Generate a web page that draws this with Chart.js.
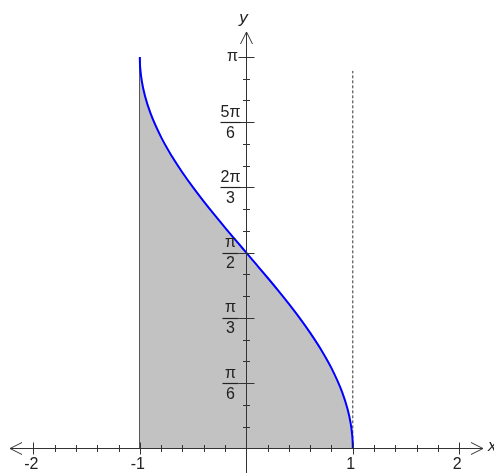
<!DOCTYPE html>
<html>
<head>
<meta charset="utf-8">
<script src="https://cdn.jsdelivr.net/npm/chart.js@4"></script>
<style>
  html, body { margin: 0; padding: 0; background: #fff; }
</style>
</head>
<body>
<canvas id="myChart" width="494" height="473"></canvas>
<script>
var PI = Math.PI;

// curve y = arccos x
var curveX = [-1, -0.999, -0.995, -0.98, -0.95, -0.9, -0.8, -0.7, -0.6, -0.5, -0.4, -0.3, -0.2, -0.1,
              0, 0.1, 0.2, 0.3, 0.4, 0.5, 0.6, 0.7, 0.8, 0.9, 0.95, 0.98, 0.995, 0.999, 1];
var curveY = [3.1416, 3.0969, 3.0416, 2.9413, 2.8240, 2.6906, 2.4981, 2.3462, 2.2143, 2.0944, 1.9823, 1.8755, 1.7722, 1.6710,
              1.5708, 1.4706, 1.3694, 1.2661, 1.1593, 1.0472, 0.9273, 0.7954, 0.6435, 0.4510, 0.3176, 0.2003, 0.1000, 0.0447, 0];

// left edge (solid) and dashed line at x = 1
var edgeX = [-1, -1];
var edgeY = [0, 3.1416];
var dashX = [1, 1];
var dashY = [0, 3.03];

// ticks
var xTicks = [-2, -1, 1, 2];
var xTickLabels = ['-2', '-1', '1', '2'];
var xMinorTicks = [-1.8, -1.6, -1.4, -1.2, -0.8, -0.6, -0.4, -0.2, 0.2, 0.4, 0.6, 0.8, 1.2, 1.4, 1.6, 1.8];
var yTicks = [PI / 6, PI / 3, PI / 2, 2 * PI / 3, 5 * PI / 6, PI];
var yTickLabels = [['π', '6'], ['π', '3'], ['π', '2'], ['2π', '3'], ['5π', '6'], ['π', '']];
var yMinorTicks = [1, 2, 4, 5, 7, 8, 10, 11, 13, 14, 16, 17].map(function (k) { return k * PI / 18; });

function pts(xs, ys) {
  return xs.map(function (x, i) { return { x: x, y: ys[i] }; });
}

var axisColor = '#333';
var textColor = '#222';

// draws the crossing axes, ticks, arrows and fraction labels
var axesPlugin = {
  id: 'axes',
  afterDatasetsDraw: function (chart) {
    var c = chart.ctx;
    var xs = chart.scales.x, ys = chart.scales.y;
    var area = chart.chartArea;
    var x0 = Math.round(xs.getPixelForValue(0)) + 0.5;
    var y0 = Math.round(ys.getPixelForValue(0)) + 0.5;
    var leftTip = area.left + 10, rightTip = area.right - 11, topTip = area.top + 32;

    c.save();
    c.strokeStyle = axisColor;
    c.lineWidth = 1;
    c.beginPath();
    // x axis
    c.moveTo(leftTip, y0); c.lineTo(rightTip, y0);
    c.moveTo(leftTip + 12, y0 - 6); c.lineTo(leftTip, y0); c.lineTo(leftTip + 12, y0 + 6);
    c.moveTo(rightTip - 12, y0 - 6); c.lineTo(rightTip, y0); c.lineTo(rightTip - 12, y0 + 6);
    // y axis
    c.moveTo(x0, area.bottom); c.lineTo(x0, topTip);
    c.moveTo(x0 - 6, topTip + 12); c.lineTo(x0, topTip); c.lineTo(x0 + 6, topTip + 12);

    xTicks.forEach(function (v) {
      var p = Math.round(xs.getPixelForValue(v)) + 0.5;
      c.moveTo(p, y0 - 6); c.lineTo(p, y0 + 6);
    });
    xMinorTicks.forEach(function (v) {
      var p = Math.round(xs.getPixelForValue(v)) + 0.5;
      c.moveTo(p, y0 - 3.5); c.lineTo(p, y0 + 3.5);
    });
    yTicks.forEach(function (v) {
      var p = Math.round(ys.getPixelForValue(v)) + 0.5;
      c.moveTo(x0 - 8, p); c.lineTo(x0 + 8, p);
    });
    yMinorTicks.forEach(function (v) {
      var p = Math.round(ys.getPixelForValue(v)) + 0.5;
      c.moveTo(x0 - 3.5, p); c.lineTo(x0 + 3.5, p);
    });
    c.stroke();

    // x labels
    c.fillStyle = textColor;
    c.font = '16px "Liberation Sans", Arial, sans-serif';
    c.textAlign = 'center';
    c.textBaseline = 'middle';
    xTicks.forEach(function (v, i) {
      c.fillText(xTickLabels[i], xs.getPixelForValue(v) - 2, y0 + 16);
    });

    // y labels as stacked fractions
    yTickLabels.forEach(function (lab, i) {
      var p = ys.getPixelForValue(yTicks[i]);
      var cx = x0 - 16;
      if (lab[1] === '') {
        c.fillText(lab[0], cx + 2, p);
        return;
      }
      c.fillText(lab[0], cx, p - 10);
      c.fillText(lab[1], cx, p + 11);
      var w = lab[0].length > 1 ? 10 : 8;
      c.beginPath();
      c.lineWidth = 1.2;
      c.strokeStyle = textColor;
      c.moveTo(cx - w, Math.round(p) + 0.5);
      c.lineTo(cx + w, Math.round(p) + 0.5);
      c.stroke();
    });

    // axis names
    c.font = 'italic 17px "Liberation Sans", Arial, sans-serif';
    c.fillText('y', x0 - 3, area.top + 18);
    c.textAlign = 'left';
    c.fillText('x', rightTip + 5, y0 - 2);
    c.restore();
  }
};

var ctx = document.getElementById('myChart').getContext('2d');
var myChart = new Chart(ctx, {
  type: 'scatter',
  data: {
    datasets: [{
      data: pts(curveX, curveY),
      showLine: true,
      borderColor: '#0000ff',
      borderWidth: 2,
      backgroundColor: '#c2c2c2',
      fill: 'origin',
      pointRadius: 0,
      cubicInterpolationMode: 'monotone'
    }, {
      data: pts(edgeX, edgeY),
      showLine: true,
      borderColor: '#222',
      borderWidth: 1.2,
      pointRadius: 0,
      fill: false
    }, {
      data: pts(dashX, dashY),
      showLine: true,
      borderColor: '#333',
      borderWidth: 1,
      borderDash: [3, 2],
      pointRadius: 0,
      fill: false
    }]
  },
  options: {
    responsive: false,
    animation: false,
    devicePixelRatio: 1,
    layout: { padding: 0 },
    plugins: { legend: { display: false }, tooltip: { enabled: false } },
    scales: {
      x: { type: 'linear', display: false, min: -2.313, max: 2.326 },
      y: { type: 'linear', display: false, min: -0.198, max: 3.599 }
    }
  },
  plugins: [axesPlugin]
});
</script>
</body>
</html>
